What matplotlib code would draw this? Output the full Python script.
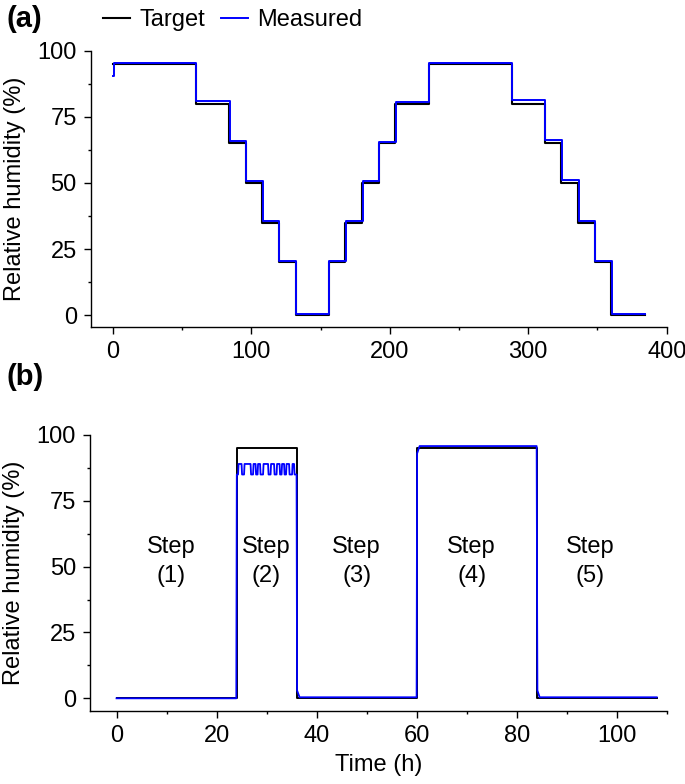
import matplotlib
matplotlib.use("Agg")
import matplotlib.pyplot as plt
from matplotlib.ticker import MultipleLocator

plt.rcParams['font.family'] = ['Liberation Sans', 'DejaVu Sans']

# ---------------- data: panel (a) ----------------
a_target_t = [0, 60, 84, 96, 108, 120, 132, 156, 168, 180, 192, 204, 228, 288,
              312, 324, 336, 348, 360, 384]
a_target_rh = [95, 80, 65, 50, 35, 20, 0, 20, 35, 50, 65, 80, 95, 80, 65, 50, 35,
               20, 0, 0]

a_meas_t = [0, 1.0, 60.3, 84.3, 96.3, 108.3, 120.3, 132.3, 156.3, 168.3, 180.3,
            192.3, 204.3, 228.3, 288.3, 312.3, 324.3, 336.3, 348.3, 360.3, 384]
a_meas_rh = [90.5, 95.3, 81.0, 66.0, 50.8, 35.6, 20.3, 0.4, 20.4, 35.5, 50.6,
             65.6, 80.7, 95.3, 81.2, 66.2, 51.0, 35.7, 20.3, 0.4, 0.4]

# ---------------- data: panel (b) ----------------
b_target_t = [0, 24, 36, 60, 84, 108]
b_target_rh = [0, 95, 0, 95, 0, 0]

b_meas_t = [0, 23.95, 24.05, 24.3, 24.4, 25.0, 25.1, 25.5, 25.6, 26.8, 26.9,
            27.3, 27.4, 27.8, 27.9, 28.2, 28.3, 28.7, 28.8, 29.3, 29.4, 30.3,
            30.4, 30.8, 30.9, 31.5, 31.6, 32.0, 32.1, 32.6, 32.7, 33.0, 33.1,
            33.5, 33.6, 33.9, 34.0, 34.5, 34.6, 35.1, 35.2, 35.5, 35.6, 36.0,
            36.1, 36.6, 60.0, 60.1, 60.6, 84.0, 84.1, 84.15, 84.6, 108]
b_meas_rh = [0, 0, 85, 85, 89, 89, 85, 85, 89, 89, 85,
             85, 89, 89, 85, 85, 89, 89, 85, 85, 89, 89,
             85, 85, 89, 89, 85, 85, 89, 89, 85, 85, 89,
             89, 85, 85, 89, 89, 85, 85, 89, 89, 85, 85,
             3, 0.4, 0.4, 93, 95.8, 95.8, 29, 3, 0.4, 0.4]

step_labels = ["Step\n(1)", "Step\n(2)", "Step\n(3)", "Step\n(4)", "Step\n(5)"]
step_label_t = [11, 30, 48, 71, 94.7]
step_label_rh = [52, 52, 52, 52, 52]

# ---------------- figure ----------------
W, H = 685, 784
fig = plt.figure(figsize=(W / 100, H / 100), dpi=100)

def px_axes(l, r, t, b):
    return fig.add_axes([l / W, 1 - b / H, (r - l) / W, (b - t) / H])

ax1 = px_axes(90.7, 666.7, 50.7, 327)
ax2 = px_axes(90.0, 666.7, 435, 710.7)

BLUE = '#0000FF'
FS = 17

def style(ax):
    for s in ['top', 'right']:
        ax.spines[s].set_visible(False)
    for s in ['left', 'bottom']:
        ax.spines[s].set_linewidth(1.0)
    ax.tick_params(which='major', direction='out', length=5, width=1.0,
                   labelsize=FS, pad=5)
    ax.tick_params(which='minor', direction='out', length=2.5, width=1.0)
    ax.yaxis.set_major_locator(MultipleLocator(25))
    ax.yaxis.set_minor_locator(MultipleLocator(12.5))
    ax.set_ylabel('Relative humidity (%)', fontsize=FS)
    ax.yaxis.set_label_coords(-0.113, 0.5)

# panel (a)
l1, = ax1.plot(a_target_t, a_target_rh, drawstyle='steps-post', color='black',
               lw=1.5, label='Target')
l2, = ax1.plot(a_meas_t, a_meas_rh, drawstyle='steps-post', color=BLUE, lw=1.4,
               label='Measured')
ax1.set_xlim(-16, 400)
ax1.set_ylim(-4.5, 100)
ax1.xaxis.set_major_locator(MultipleLocator(100))
ax1.xaxis.set_minor_locator(MultipleLocator(50))
style(ax1)

fig.legend(handles=[l1, l2], loc='center left',
           bbox_to_anchor=(103 / W, 1 - 20 / H), bbox_transform=fig.transFigure,
           ncol=2, frameon=False, fontsize=FS, handlelength=1.15,
           handletextpad=0.4, columnspacing=0.65, borderpad=0, borderaxespad=0)

# panel (b)
ax2.plot(b_target_t, b_target_rh, drawstyle='steps-post', color='black', lw=1.4)
ax2.plot(b_meas_t, b_meas_rh, color=BLUE, lw=1.3)
ax2.set_xlim(-5.3, 110)
ax2.set_ylim(-4.7, 100)
ax2.xaxis.set_major_locator(MultipleLocator(20))
ax2.xaxis.set_minor_locator(MultipleLocator(10))
style(ax2)
ax2.set_xlabel('Time (h)', fontsize=FS, labelpad=5)

for txt, tx, ty in zip(step_labels, step_label_t, step_label_rh):
    ax2.text(tx, ty, txt, ha='center', va='center', fontsize=FS,
             linespacing=1.45)

fig.text(6 / W, 1 - 19 / H, '(a)', fontsize=21, fontweight='bold',
         ha='left', va='center')
fig.text(6 / W, 1 - 377 / H, '(b)', fontsize=21, fontweight='bold',
         ha='left', va='center')

fig.savefig('out.png', dpi=100)
